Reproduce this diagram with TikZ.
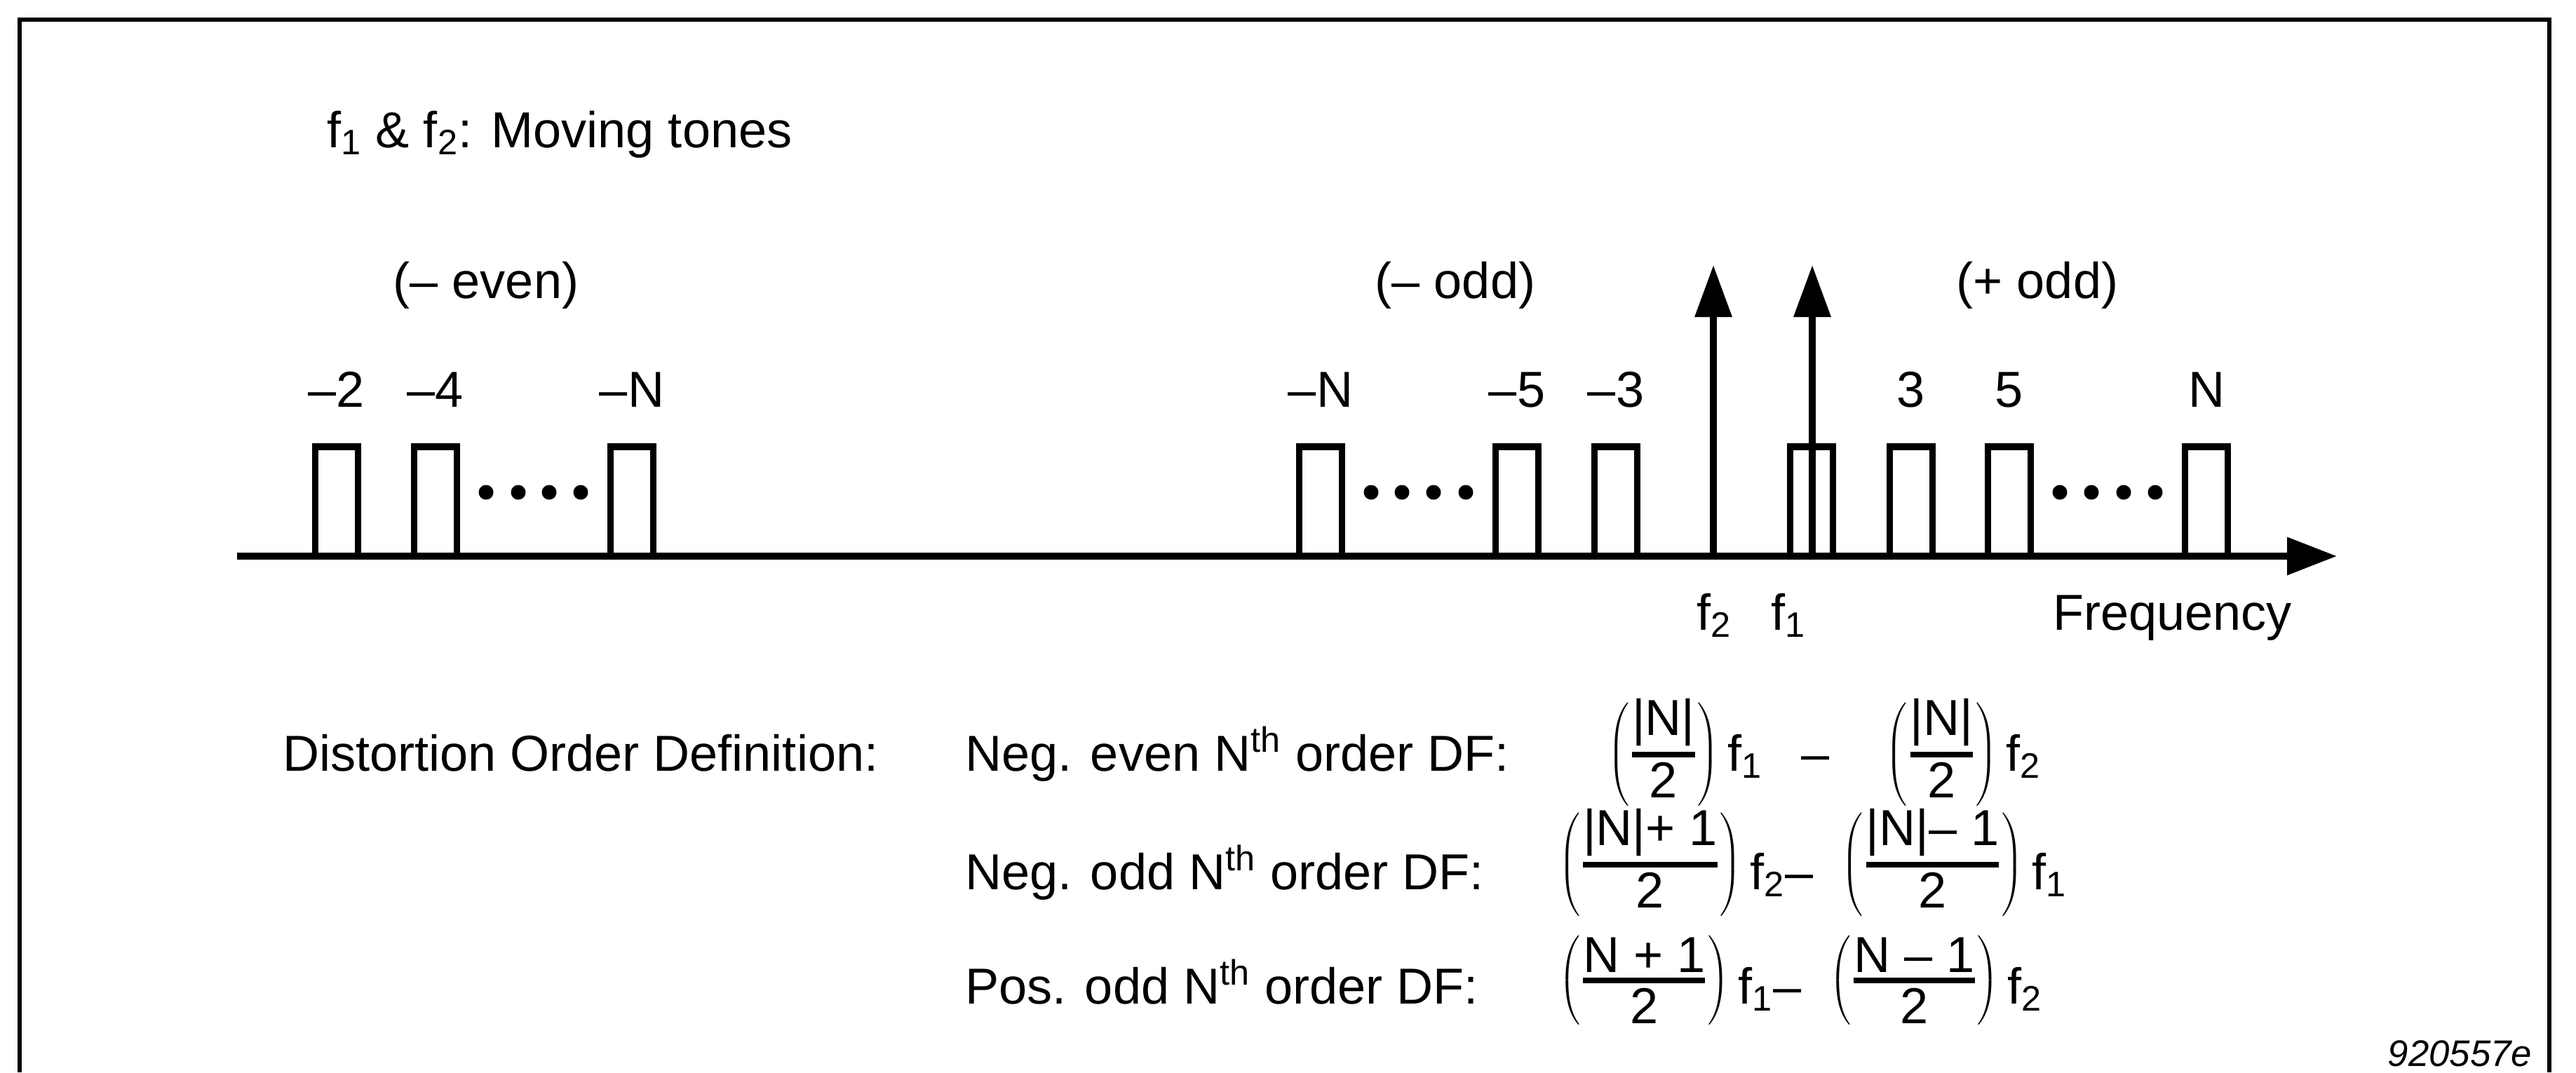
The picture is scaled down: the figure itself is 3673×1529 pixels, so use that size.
\documentclass[tikz,border=0pt]{standalone}
\usepackage{fontspec}
\setmainfont{Liberation Sans}
\usetikzlibrary{arrows.meta}
\newcommand{\pf}[2]{$\textstyle\left({\mbox{#1}\above 2.2pt\mbox{#2}}\right)$}
\newcommand{\fs}[1]{f\textsubscript{#1}}
\begin{document}
\begin{tikzpicture}[x=0.01cm,y=-0.01cm,
  every node/.style={inner sep=0pt, outer sep=0pt, font=\fontsize{20.5pt}{24pt}\selectfont},
  ln/.style={line width=2.8pt},
  tone/.style={ln, -{Triangle[length=0.74cm,width=0.51cm]}},
  slot/.style={draw, line width=2.8pt, minimum width=0.61cm, minimum height=1.56cm, anchor=south},
  dot/.style={circle, fill, minimum size=0.21cm, inner sep=0pt},
  lab/.style={anchor=base}]
\useasboundingbox (0,0) rectangle (3673,1529);
% frame
\draw[line width=1.85pt] (28,1529) -- (28,28) -- (3635,28) -- (3635,1529);
% title
\node[anchor=base west] (title) at (466,210) {\fs{1} \& \fs{2}: Moving tones};
% group labels
\node[lab] (geven) at (693,425) {(– even)};
\node[lab] (godd) at (2075,425) {(– odd)};
\node[lab] (gpodd) at (2905,425) {(+ odd)};
% axis
\coordinate (ax0) at (338,793);
\coordinate (ax1) at (3332,793);
\draw[ln, -{Triangle[length=0.71cm,width=0.52cm]}] (ax0) -- (ax1);
% slots
\foreach \x/\n/\t in {480/m2/–2, 621/m4/–4, 901/mNe/–N, 1883/mNo/–N, 2163/m5/–5, 2304/m3/–3, 2725/p3/3, 2865/p5/5, 3146/pN/N}{
  \node[slot] (s\n) at (\x,793) {};
  \node[lab] (l\n) at (\x,580) {\t};
}
\node[slot] (sf1) at (2583,793) {};
% dots
\foreach \x [count=\i] in {693,739,783,828}{\node[dot] (de\i) at (\x,702) {};}
\foreach \x [count=\i] in {1955,1999,2044,2090}{\node[dot] (do\i) at (\x,702) {};}
\foreach \x [count=\i] in {2937,2982,3028,3073}{\node[dot] (dp\i) at (\x,702) {};}
% tones
\coordinate (f2b) at (2443,793);
\coordinate (f2t) at (2443,378);
\coordinate (f1b) at (2584,793);
\coordinate (f1t) at (2584,378);
\draw[tone] (f2b) -- (f2t);
\draw[tone] (f1b) -- (f1t);
\node[lab] (lf2) at (2444,898) {\fs{2}};
\node[lab] (lf1) at (2550,898) {\fs{1}};
\node[anchor=base west] (freq) at (2927,898) {Frequency};
% definitions
\node[anchor=base west] (dod) at (403,1099) {Distortion Order Definition:};
\node[anchor=base west] (r1) at (1376,1099) {Neg. even N\textsuperscript{th} order DF:};
\node[anchor=base west] (r2) at (1376,1268) {Neg. odd N\textsuperscript{th} order DF:};
\node[anchor=base west] (r3) at (1376,1431) {Pos. odd N\textsuperscript{th} order DF:};
\node[anchor=base west] (fm1) at (2292,1099) {\raisebox{0.05cm}{\pf{|N|}{2}}\,\fs{1}\hspace{0.55cm}–\hspace{0.8cm}\raisebox{0.05cm}{\pf{|N|}{2}}\,\fs{2}};
\node[anchor=base west] (fm2) at (2222,1268) {\raisebox{0.17cm}{\pf{|N|+ 1}{2}}\,\fs{2}–\hspace{0.4cm}\raisebox{0.17cm}{\pf{|N|– 1}{2}}\,\fs{1}};
\node[anchor=base west] (fm3) at (2222,1431) {\raisebox{0.15cm}{\pf{N + 1}{2}}\,\fs{1}–\hspace{0.4cm}\raisebox{0.15cm}{\pf{N – 1}{2}}\,\fs{2}};
% figure id
\node[anchor=base east, font=\fontsize{15pt}{18pt}\selectfont\itshape] (fid) at (3610,1520) {920557e};
\end{tikzpicture}
\end{document}
